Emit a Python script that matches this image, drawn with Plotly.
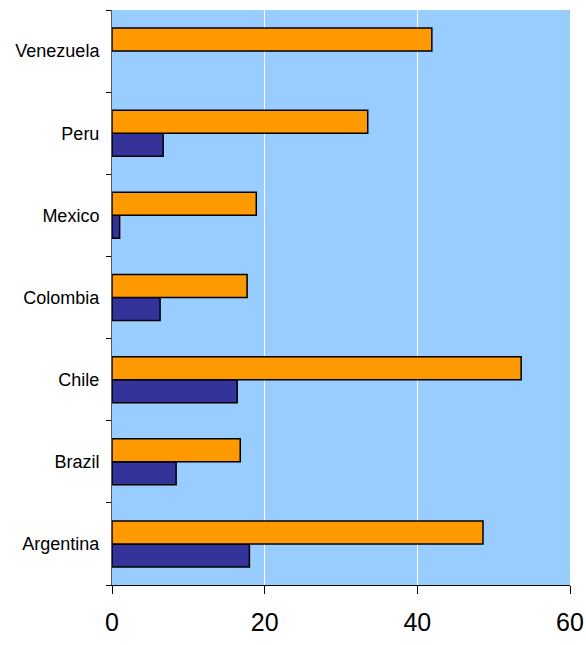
import plotly.graph_objects as go

countries = ["Argentina", "Brazil", "Chile", "Colombia", "Mexico", "Peru", "Venezuela"]
navy_values = [18.0, 8.4, 16.4, 6.3, 1.0, 6.7, None]
orange_values = [48.6, 16.8, 53.6, 17.7, 18.9, 33.5, 41.9]
x_ticks = [0, 20, 40, 60]

fig = go.Figure()
fig.add_trace(go.Bar(
    y=countries, x=navy_values, orientation="h",
    marker=dict(color="#333399", line=dict(color="#000000", width=1.5)),
    showlegend=False,
))
fig.add_trace(go.Bar(
    y=countries, x=orange_values, orientation="h",
    marker=dict(color="#FF9900", line=dict(color="#000000", width=1.5)),
    showlegend=False,
))

fig.update_layout(
    width=586, height=645,
    margin=dict(l=112, r=16, t=10, b=60, autoexpand=False),
    paper_bgcolor="white",
    plot_bgcolor="#99CCFF",
    barmode="group",
    bargap=0.44,
    bargroupgap=0,
    font=dict(family="Liberation Sans, Arial, sans-serif", color="#000000"),
    xaxis=dict(
        range=[0, 60],
        tickvals=x_ticks,
        showgrid=True, gridcolor="#FFFFFF", gridwidth=1,
        zeroline=False,
        showline=True, linecolor="#000000", linewidth=1,
        ticks="outside", ticklen=8, tickcolor="#000000",
        tickfont=dict(size=25),
        ticklabelstandoff=7,
        automargin=False,
        fixedrange=True,
    ),
    yaxis=dict(
        type="category",
        categoryorder="array", categoryarray=countries,
        showgrid=False, zeroline=False,
        showline=True, linecolor="#555555", linewidth=1,
        ticks="outside", ticklen=5, tickcolor="#000000",
        tickson="boundaries",
        tickfont=dict(size=18),
        ticklabelstandoff=8,
        automargin=False,
        fixedrange=True,
    ),
)

fig.write_html("out.html")
